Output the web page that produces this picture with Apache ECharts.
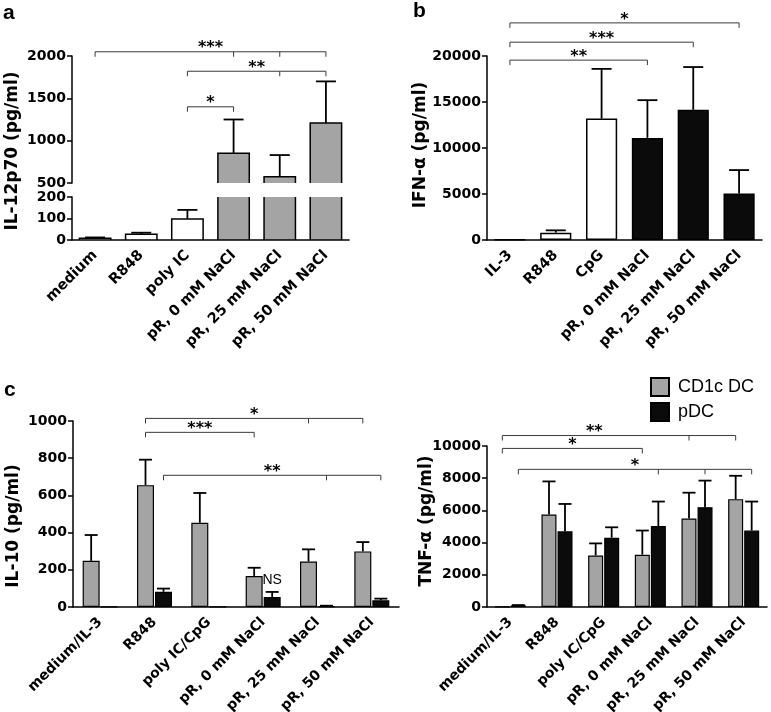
<!DOCTYPE html>
<html><head><meta charset="utf-8">
<script src="https://cdn.jsdelivr.net/npm/echarts@6/dist/echarts.min.js"></script>
<style>html,body{margin:0;padding:0;background:#fff}#c{width:771px;height:712px}</style>
</head><body><div id="c"></div>
<script>
// ---------- data ----------
const catsA = ['medium', 'R848', 'poly IC', 'pR, 0 mM NaCl', 'pR, 25 mM NaCl', 'pR, 50 mM NaCl'];
const il12Mean = [8, 27, 98, 850, 575, 1210];
const il12Sem = [4, 7, 42, 400, 255, 490];
const il12UpperRange = [500, 2000, 500];
const il12LowerRange = [0, 200, 100];

const catsB = ['IL-3', 'R848', 'CpG', 'pR, 0 mM NaCl', 'pR, 25 mM NaCl', 'pR, 50 mM NaCl'];
const ifnMean = [30, 800, 13200, 11100, 14150, 5050];
const ifnSem = [0, 250, 5400, 4100, 4650, 2550];
const ifnRange = [0, 20000, 5000];

const catsC = ['medium/IL-3', 'R848', 'poly IC/CpG', 'pR, 0 mM NaCl', 'pR, 25 mM NaCl', 'pR, 50 mM NaCl'];
const il10Cd1c = [248, 655, 453, 167, 245, 299];
const il10Cd1cSem = [139, 137, 160, 44, 65, 50];
const il10Pdc = [2, 82, 1, 54, 5, 36];
const il10PdcSem = [0, 17, 0, 27, 2, 9];
const il10Range = [0, 1000, 200];

const tnfCd1c = [20, 5750, 3200, 3250, 5500, 6700];
const tnfCd1cSem = [0, 2050, 750, 1500, 1600, 1450];
const tnfPdc = [100, 4700, 4300, 5030, 6200, 4750];
const tnfPdcSem = [20, 1700, 650, 1520, 1650, 1800];
const tnfRange = [0, 10000, 2000];

// significance brackets: [category, side(-1 CD1c, +1 pDC, 0 single)]
const bracketsA = [
  {from: [0, 0], to: [5, 0], ticks: [[3, 0], [4, 0]], y: 2050, text: '***', at: [2.5, 0]},
  {from: [2, 0], to: [5, 0], ticks: [[4, 0]], y: 1820, text: '**', at: [3.5, 0]},
  {from: [2, 0], to: [3, 0], ticks: [], y: 1400, text: '*', at: [2.5, 0]}
];
const bracketsB = [
  {from: [0, 0], to: [5, 0], ticks: [], y: 23600, text: '*', at: [2.5, 0]},
  {from: [0, 0], to: [4, 0], ticks: [], y: 21500, text: '***', at: [2, 0]},
  {from: [0, 0], to: [3, 0], ticks: [], y: 19550, text: '**', at: [1.5, 0]}
];
const bracketsC = [
  {from: [1, -1], to: [5, -1], ticks: [[4, -1]], y: 1014, text: '*', at: [3, -1]},
  {from: [1, -1], to: [3, -1], ticks: [], y: 939, text: '***', at: [2, -1]},
  {from: [1, 1], to: [5, 1], ticks: [[4, 1]], y: 708, text: '**', at: [3, 1]}
];
const bracketsD = [
  {from: [0, -1], to: [5, -1], ticks: [[4, -1]], y: 10650, text: '**', at: [1.8, 0]},
  {from: [0, -1], to: [3, -1], ticks: [], y: 9850, text: '*', at: [1.5, -1]},
  {from: [0, 1], to: [5, 1], ticks: [[3, 1], [4, 1]], y: 8550, text: '*', at: [2.5, 1]}
];
const nsMarks = [{at: [3, 1], y: 143, text: 'NS'}];

// ---------- styles ----------
const FONT = '"DejaVu Sans", sans-serif';
const GRAY = '#a4a4a4', BLACK = '#0b0b0b', WHITE = '#ffffff';
const colorsA = [WHITE, WHITE, WHITE, GRAY, GRAY, GRAY];
const colorsB = [WHITE, WHITE, WHITE, BLACK, BLACK, BLACK];
const C_BAR = 17, C_OFF = 9;
const D_BAR = 15, D_OFF = 8;

const chart = echarts.init(document.getElementById('c'), null, {renderer: 'canvas', width: 771, height: 712});

function yAx(gridIndex, r, extra) {
  return Object.assign({
    type: 'value', gridIndex, min: r[0], max: r[1], interval: r[2],
    splitLine: {show: false},
    axisLine: {show: true, lineStyle: {color: '#000', width: 1.5}},
    axisTick: {show: true, length: 5, lineStyle: {color: '#000', width: 1.5}},
    axisLabel: {color: '#000', fontFamily: FONT, fontWeight: 'bold', fontSize: 14, margin: 6, formatter: v => String(v)}
  }, extra || {});
}
function xLabel(size) {
  return {interval: 0, rotate: 45, color: '#000', fontFamily: FONT, fontWeight: 'bold', fontSize: size, margin: 13};
}
function xAx(gridIndex, cats, extra) {
  return Object.assign({
    type: 'category', gridIndex, data: cats,
    axisLine: {onZero: false, lineStyle: {color: '#000', width: 1.5}},
    axisTick: {alignWithLabel: true, length: 5, lineStyle: {color: '#000', width: 1.5}},
    axisLabel: xLabel(14.5)
  }, extra || {});
}

function customBars(xi, yi, means, colors) {
  return {
    type: 'custom', xAxisIndex: xi, yAxisIndex: yi, clip: true, silent: true, z: 2,
    data: means.map((v, i) => [i, v]),
    renderItem: (params, api) => {
      const i = api.value(0);
      const base = api.coord([i, 0]);
      const top = api.coord([i, api.value(1)]);
      const w = api.size([1, 0])[0] * 0.68;
      return {type: 'rect', shape: {x: top[0] - w / 2, y: top[1], width: w, height: base[1] - top[1]},
        style: {fill: colors[i], stroke: '#000', lineWidth: 1.5}};
    }
  };
}
function errBars(xi, yi, means, sems, off, capW, clip) {
  return {
    type: 'custom', xAxisIndex: xi, yAxisIndex: yi, clip: clip, silent: true, z: 4,
    data: means.map((m, i) => [i, m, m + sems[i]]),
    renderItem: (params, api) => {
      const i = api.value(0);
      if (api.value(2) <= api.value(1)) return null;
      const p1 = api.coord([i, api.value(1)]);
      const p2 = api.coord([i, api.value(2)]);
      const x = p1[0] + off;
      const st = {stroke: '#000', lineWidth: 1.8};
      return {type: 'group', children: [
        {type: 'line', shape: {x1: x, y1: p1[1], x2: x, y2: p2[1]}, style: st},
        {type: 'line', shape: {x1: x - capW / 2, y1: p2[1], x2: x + capW / 2, y2: p2[1]}, style: st}
      ]};
    }
  };
}
function brackets(xi, yi, list, off) {
  return {
    type: 'custom', xAxisIndex: xi, yAxisIndex: yi, clip: false, silent: true, z: 5,
    data: list.map(b => [0, b.y]),
    renderItem: (params, api) => {
      const b = list[params.dataIndex];
      const band = api.size([1, 0])[0];
      const c0 = api.coord([0, b.y]);
      const py = c0[1];
      const px = p => c0[0] + p[0] * band + p[1] * off;
      const st = {stroke: '#3a3a3a', lineWidth: 1};
      const ch = [{type: 'line', shape: {x1: px(b.from), y1: py, x2: px(b.to), y2: py}, style: st}];
      [b.from, b.to].concat(b.ticks).forEach(p => {
        const x = px(p);
        ch.push({type: 'line', shape: {x1: x, y1: py, x2: x, y2: py + 5}, style: st});
      });
      ch.push({type: 'text', style: {text: b.text, x: px(b.at), y: py - 3.5, align: 'center', verticalAlign: 'middle',
        font: 'bold 16px "DejaVu Sans"', fill: '#000'}});
      return {type: 'group', children: ch};
    }
  };
}
function textMarks(xi, yi, list, off) {
  return {
    type: 'custom', xAxisIndex: xi, yAxisIndex: yi, clip: false, silent: true, z: 5,
    data: list.map(m => [m.at[0], m.y]),
    renderItem: (params, api) => {
      const m = list[params.dataIndex];
      const c = api.coord([m.at[0], m.y]);
      return {type: 'text', style: {text: m.text, x: c[0] + m.at[1] * off, y: c[1], align: 'center', verticalAlign: 'middle',
        font: '14px "Liberation Sans"', fill: '#000'}};
    }
  };
}
function barSeries(name, xi, yi, vals, color, w, gap) {
  return {type: 'bar', name, xAxisIndex: xi, yAxisIndex: yi, data: vals, barWidth: w, barGap: gap,
    itemStyle: {color, borderColor: '#000', borderWidth: 1.2}, silent: true};
}

const grids = [
  {left: 72, right: 422, top: 56, height: 127},
  {left: 72, right: 422, top: 197, height: 43},
  {left: 487, right: 9, top: 56, height: 184},
  {left: 73, right: 372, top: 421, height: 186},
  {left: 487, right: 4, top: 446, height: 161}
].map(g => Object.assign({outerBoundsMode: 'none', containLabel: false}, g));

const option = {
  animation: false,
  backgroundColor: '#fff',
  grid: grids,
  xAxis: [
    xAx(0, catsA, {show: false}),
    xAx(1, catsA),
    xAx(2, catsB),
    xAx(3, catsC, {axisLabel: xLabel(14)}),
    xAx(4, catsC, {axisLabel: xLabel(14)})
  ],
  yAxis: [
    yAx(0, il12UpperRange),
    yAx(1, il12LowerRange),
    yAx(2, ifnRange),
    yAx(3, il10Range),
    yAx(4, tnfRange)
  ],
  legend: {
    data: ['CD1c DC', 'pDC'], orient: 'vertical', left: 645, top: 372, itemWidth: 18, itemHeight: 18, itemGap: 5,
    icon: 'rect', selectedMode: false,
    textStyle: {fontSize: 18, fontFamily: '"Liberation Sans"', color: '#000', padding: [0, 0, 0, 4]}
  },
  series: [
    customBars(0, 0, il12Mean, colorsA),
    customBars(1, 1, il12Mean, colorsA),
    errBars(0, 0, il12Mean, il12Sem, 0, 20, true),
    errBars(1, 1, il12Mean, il12Sem, 0, 20, true),
    brackets(0, 0, bracketsA, 0),

    {type: 'bar', xAxisIndex: 2, yAxisIndex: 2, barWidth: '68%', silent: true,
      data: ifnMean.map((v, i) => ({value: v, itemStyle: {color: colorsB[i], borderColor: '#000', borderWidth: 1.5}}))},
    errBars(2, 2, ifnMean, ifnSem, 0, 20, false),
    brackets(2, 2, bracketsB, 0),

    barSeries('CD1c DC', 3, 3, il10Cd1c, GRAY, C_BAR, '6%'),
    barSeries('pDC', 3, 3, il10Pdc, BLACK, C_BAR, '6%'),
    errBars(3, 3, il10Cd1c, il10Cd1cSem, -C_OFF, 13, false),
    errBars(3, 3, il10Pdc, il10PdcSem, C_OFF, 13, false),
    brackets(3, 3, bracketsC, C_OFF),
    textMarks(3, 3, nsMarks, C_OFF),

    barSeries('CD1c DC', 4, 4, tnfCd1c, GRAY, D_BAR, '7%'),
    barSeries('pDC', 4, 4, tnfPdc, BLACK, D_BAR, '7%'),
    errBars(4, 4, tnfCd1c, tnfCd1cSem, -D_OFF, 13, false),
    errBars(4, 4, tnfPdc, tnfPdcSem, D_OFF, 13, false),
    brackets(4, 4, bracketsD, D_OFF)
  ],
  graphic: [
    {type: 'text', x: 3, y: 13, style: {text: 'a', font: 'bold 21px "Liberation Sans"', fill: '#000', verticalAlign: 'middle'}},
    {type: 'text', x: 413, y: 11, style: {text: 'b', font: 'bold 21px "Liberation Sans"', fill: '#000', verticalAlign: 'middle'}},
    {type: 'text', x: 4, y: 390, style: {text: 'c', font: 'bold 21px "Liberation Sans"', fill: '#000', verticalAlign: 'middle'}},
    {type: 'text', x: 13, y: 151, rotation: Math.PI / 2, style: {text: 'IL-12p70 (pg/ml)', font: 'bold 17px "DejaVu Sans"', fill: '#000', align: 'center', verticalAlign: 'middle'}},
    {type: 'text', x: 421, y: 145, rotation: Math.PI / 2, style: {text: 'IFN-α (pg/ml)', font: 'bold 17px "DejaVu Sans"', fill: '#000', align: 'center', verticalAlign: 'middle'}},
    {type: 'text', x: 14, y: 526, rotation: Math.PI / 2, style: {text: 'IL-10 (pg/ml)', font: 'bold 17px "DejaVu Sans"', fill: '#000', align: 'center', verticalAlign: 'middle'}},
    {type: 'text', x: 427, y: 521, rotation: Math.PI / 2, style: {text: 'TNF-α (pg/ml)', font: 'bold 17px "DejaVu Sans"', fill: '#000', align: 'center', verticalAlign: 'middle'}}
  ]
};
chart.setOption(option);
</script>
</body></html>
